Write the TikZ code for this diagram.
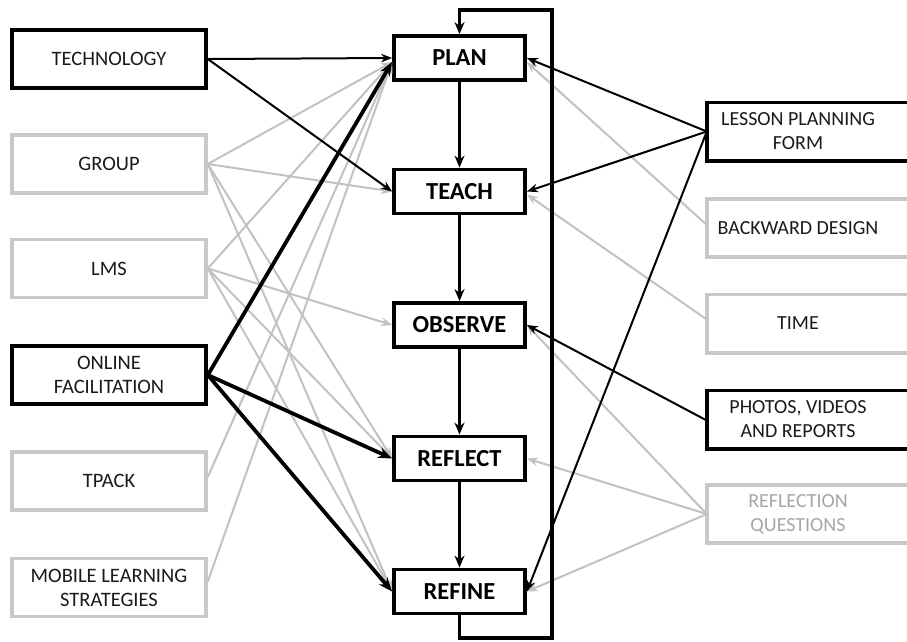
\documentclass[tikz,border=0pt]{standalone}
\usepackage{fontspec}
\setmainfont{Carlito}
\usetikzlibrary{arrows.meta}
\definecolor{lg}{HTML}{C8C8C8}
\definecolor{lineg}{HTML}{C2C2C2}
\definecolor{tg}{HTML}{A6A6A6}
\definecolor{tx}{HTML}{1A1A1A}
\begin{document}
\begin{tikzpicture}[x=1pt,y=-1pt,
  sidebox/.style={draw, line width=3.6pt, minimum width=194pt, minimum height=58pt, align=center, inner sep=2pt, font=\fontsize{20.5}{24}\selectfont, text=tx},
  graybox/.style={sidebox, draw=lg},
  rtext/.style={minimum width=182pt, minimum height=58pt, align=center, inner sep=2pt, font=\fontsize{20}{24}\selectfont, text=tx},
  rbox/.style={draw, line width=3.6pt},
  rgbox/.style={draw=lg, line width=3.6pt},
  stage/.style={draw, line width=3.8pt, minimum width=131pt, minimum height=44pt, inner sep=2pt, font=\bfseries\fontsize{24.5}{28}\selectfont},
  blk/.style={line width=2pt, -{Stealth[length=11pt,width=8.5pt]}},
  thk/.style={line width=3.8pt, -{Stealth[length=14pt,width=11pt]}},
  gry/.style={line width=2pt, draw=lineg, -{Stealth[length=11pt,width=8.5pt,fill=lineg]}},
  vert/.style={line width=3pt, -{Stealth[length=12pt,width=10pt]}},
  loopline/.style={line width=3.8pt, line join=miter, -{Stealth[length=12pt,width=10pt]}}]
\clip (0,0) rectangle (907,641);
\useasboundingbox (0,0) rectangle (907,641);
\fill[white] (0,0) rectangle (907,641);

% left column
\node[sidebox] (tech) at (109,59) {TECHNOLOGY};
\node[graybox] (group) at (109,164) {GROUP};
\node[graybox] (lms) at (109,268.5) {LMS};
\node[sidebox] (online) at (109,375) {ONLINE\\FACILITATION};
\node[graybox] (tpack) at (109,481) {TPACK};
\node[graybox] (mobile) at (109,587.5) {MOBILE LEARNING\\STRATEGIES};

% center column
\node[stage] (plan) at (459.5,58) {PLAN};
\node[stage] (teach) at (459.5,191.5) {TEACH};
\node[stage] (observe) at (459.5,325) {OBSERVE};
\node[stage] (reflect) at (459.5,458.5) {REFLECT};
\node[stage] (refine) at (459.5,591.5) {REFINE};

% right column
\node[rtext] (lpf) at (798,131.5) {LESSON PLANNING\\FORM};
\draw[rbox] (lpf.north west) rectangle ([xshift=40pt]lpf.south east);
\node[rtext] (bd) at (798,228) {BACKWARD DESIGN};
\draw[rgbox] (bd.north west) rectangle ([xshift=40pt]bd.south east);
\node[rtext] (time) at (798,323.5) {TIME};
\draw[rgbox] (time.north west) rectangle ([xshift=40pt]time.south east);
\node[rtext] (photos) at (798,419.5) {PHOTOS, VIDEOS\\AND REPORTS};
\draw[rbox] (photos.north west) rectangle ([xshift=40pt]photos.south east);
\node[rtext, text=tg] (rq) at (798,514) {REFLECTION\\QUESTIONS};
\draw[rgbox] (rq.north west) rectangle ([xshift=40pt]rq.south east);

% gray connectors
\draw[gry] (group.east) -- ([yshift=-4pt]plan.west);
\draw[gry] (group.east) -- (teach.west);
\draw[gry] (group.east) -- (reflect.west);
\draw[gry] (group.east) -- (refine.west);
\draw[gry] (lms.east) -- ([yshift=-4pt]plan.west);
\draw[gry] (lms.east) -- (observe.west);
\draw[gry] (lms.east) -- (reflect.west);
\draw[gry] (lms.east) -- (refine.west);
\draw[gry] ([yshift=4pt]tpack.east) -- ([yshift=-4pt]plan.west);
\draw[gry] ([yshift=6pt]mobile.east) -- ([yshift=-4pt]plan.west);
\draw[gry] ([yshift=3pt]bd.west) -- ([yshift=-4pt]plan.east);
\draw[gry] ([yshift=4pt]time.west) -- ([yshift=-3pt]teach.east);
\draw[gry] (rq.west) -- (observe.east);
\draw[gry] (rq.west) -- (reflect.east);
\draw[gry] (rq.west) -- (refine.east);

% black connectors
\draw[blk] (tech.east) -- (plan.west);
\draw[blk] (tech.east) -- (teach.west);
\draw[thk] (online.east) -- ([yshift=-4pt]plan.west);
\draw[thk] (online.east) -- (reflect.west);
\draw[thk] (online.east) -- (refine.west);
\draw[blk] (lpf.west) -- (plan.east);
\draw[blk] (lpf.west) -- (teach.east);
\draw[blk] (lpf.west) -- (refine.east);
\draw[blk] ([yshift=-1pt]photos.west) -- (observe.east);

% vertical flow
\draw[vert] (plan.south) -- (teach.north);
\draw[vert] (teach.south) -- (observe.north);
\draw[vert] (observe.south) -- (reflect.north);
\draw[vert] (reflect.south) -- (refine.north);

% loop back
\coordinate (lb) at (552,638);
\coordinate (lt) at (552,10);
\draw[loopline] (refine.south) -- (refine.south |- lb) -- (lb) -- (lt) -- (plan.north |- lt) -- (plan.north);
\end{tikzpicture}
\end{document}
